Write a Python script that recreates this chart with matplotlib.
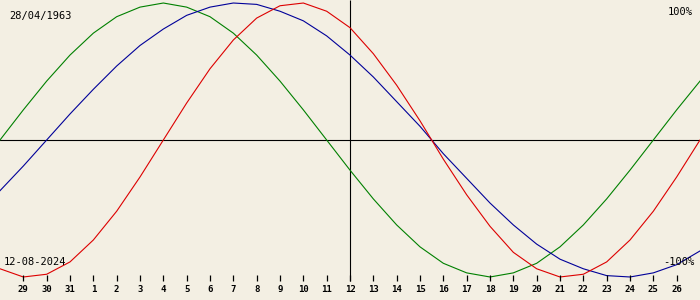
import matplotlib
matplotlib.use("Agg")
import matplotlib.pyplot as plt

# biorhythm values (%) per day, offset -15..15 around 12-08-2024
offsets = list(range(-15, 16))
physical = [-94, -100, -98, -89, -73, -52, -27, 0, 27, 52, 73, 89, 98, 100, 94, 82,
            63, 40, 14, -14, -40, -63, -82, -94, -100, -98, -89, -73, -52, -27, 0]
emotional = [0, 22, 43, 62, 78, 90, 97, 100, 97, 90, 78, 62, 43, 22, 0, -22,
             -43, -62, -78, -90, -97, -100, -97, -90, -78, -62, -43, -22, 0, 22, 43]
intellectual = [-37, -19, 0, 19, 37, 54, 69, 81, 91, 97, 100, 99, 94, 87, 76, 62,
                46, 28, 10, -10, -28, -46, -62, -76, -87, -94, -99, -100, -97, -91, -81]

tick_offsets = list(range(-14, 15))
day_labels = ["29", "30", "31"] + [str(d) for d in range(1, 27)]

birth = "28/04/1963"
today = "12-08-2024"

bg = "#f3efe3"
fig = plt.figure(figsize=(7, 3), dpi=100, facecolor=bg)
ax = fig.add_axes([0, 0, 1, 1], facecolor=bg)
ax.set_xlim(-15, 15)
ax.set_ylim(-116.8, 102.2)
ax.axis("off")

ax.axhline(0, color="black", lw=0.8)
ax.vlines(0, -102.9, 102.2, color="black", lw=0.8)

ax.plot(offsets, emotional, color="#008000", lw=0.8)
ax.plot(offsets, intellectual, color="#000099", lw=0.8)
ax.plot(offsets, physical, color="#dd0000", lw=0.8)

ax.vlines(tick_offsets, -98.5, -103, color="black", lw=0.9)
for x, lab in zip(tick_offsets, day_labels):
    ax.text(x, -109.5, lab, ha="center", va="center", fontsize=6.5,
            family="DejaVu Sans Mono", fontweight="bold")

mono = dict(family="DejaVu Sans Mono", fontsize=7.5)
ax.text(0.013, 0.947, birth, transform=ax.transAxes, ha="left", va="center", **mono)
ax.text(0.99, 0.96, "100%", transform=ax.transAxes, ha="right", va="center", **mono)
ax.text(0.006, 0.127, today, transform=ax.transAxes, ha="left", va="center", **mono)
ax.text(0.992, 0.127, "-100%", transform=ax.transAxes, ha="right", va="center", **mono)

fig.savefig("out.png", dpi=100, facecolor=bg)
